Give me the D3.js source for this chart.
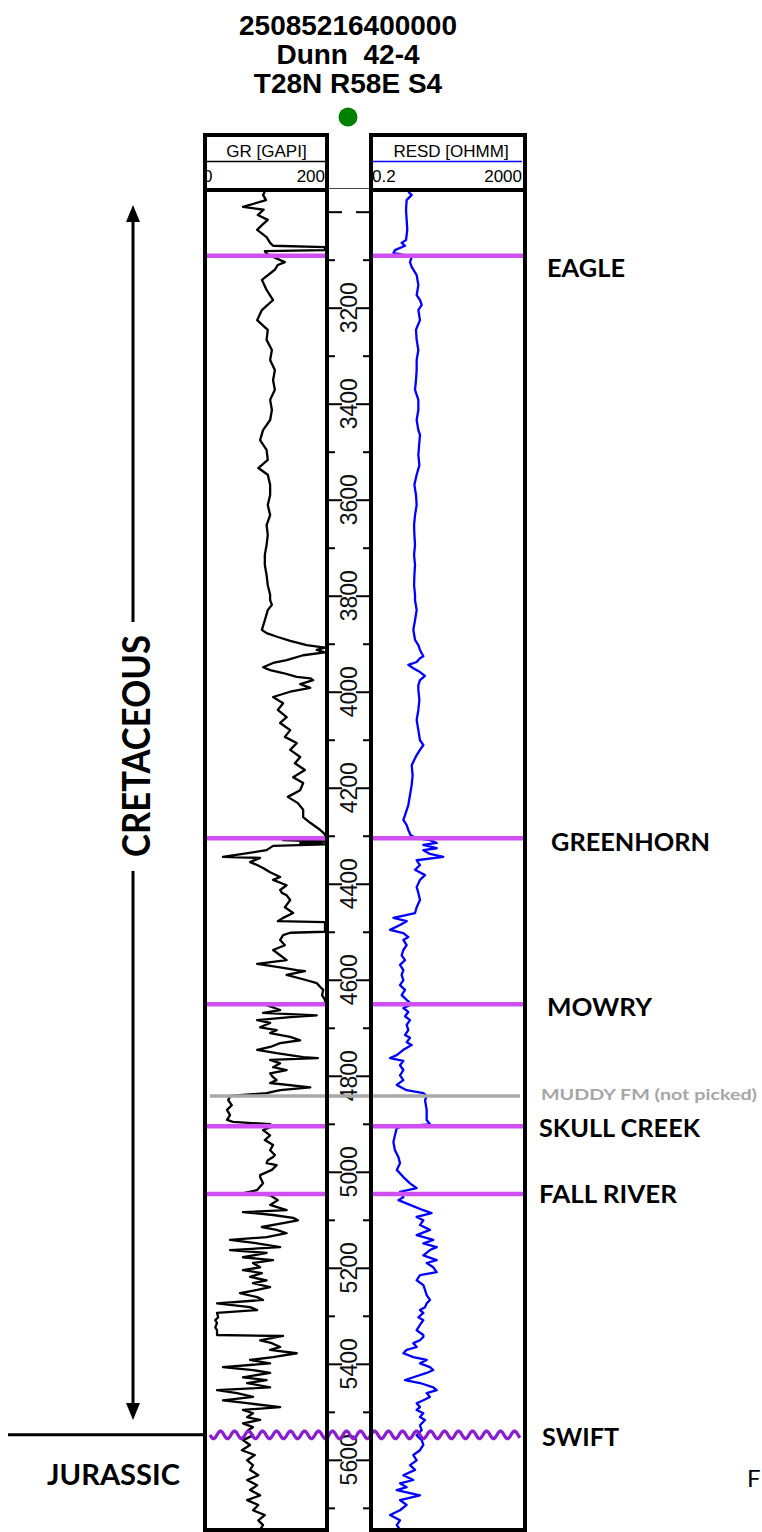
<!DOCTYPE html>
<html>
<head>
<meta charset="utf-8">
<script src="https://cdn.jsdelivr.net/npm/d3@7"></script>
<style>
  html, body { margin: 0; padding: 0; background: #fff; }
  svg { display: block; }
</style>
</head>
<body>
<svg id="chart" width="762" height="1532"></svg>
<script>
// ---------------- well header ----------------
const wellTitle = ["25085216400000", "Dunn  42-4", "T28N R58E S4"];

// ---------------- curve scales ----------------
const grDomain = [0, 200];          // GR [GAPI], linear
const resdDomain = [0.2, 2000];     // RESD [OHMM], logarithmic
const depthRange = [2959, 5742];    // feet shown in the tracks
const depthTicks = d3.range(3000, 5701, 100);
const depthMajor = d3.range(3000, 5701, 200);
const depthLabels = d3.range(3200, 5601, 200);

// ---------------- gamma ray log [depth ft, API] ----------------
const grLog = [
  [2959,98],[2965,95],[2976,100],[2990,61],[2996,96],[3007,86],[3017,103],[3028,93],[3038,85],
  [3053,101],[3065,107],[3071,112],[3074,200],[3080,200],[3082,98],[3086,100],[3092,107],
  [3096,115],[3105,132],[3111,120],[3121,115],[3142,93],[3163,101],[3184,112],[3205,93],
  [3226,85],[3246,103],[3267,101],[3288,110],[3309,107],[3330,115],[3351,112],[3371,115],
  [3392,107],[3413,110],[3434,107],[3455,95],[3476,90],[3496,101],[3517,103],[3534,87],
  [3548,103],[3569,107],[3590,107],[3611,103],[3632,107],[3653,101],[3673,103],[3694,101],
  [3715,98],[3736,98],[3757,101],[3778,103],[3798,107],[3809,107],[3819,110],[3830,103],
  [3851,98],[3871,93],[3878,101],[3886,120],[3894,141],[3903,169],[3908,200],[3913,186],
  [3918,200],[3924,163],[3934,135],[3940,112],[3949,95],[3955,107],[3961,129],[3969,152],
  [3972,175],[3976,180],[3984,158],[3992,175],[4000,141],[4011,112],[4024,129],[4038,120],
  [4053,135],[4065,124],[4080,141],[4094,132],[4107,152],[4121,141],[4136,158],[4149,149],
  [4163,166],[4178,146],[4190,163],[4205,158],[4219,137],[4232,154],[4246,163],[4261,163],
  [4273,175],[4288,192],[4297,200],[4305,200],[4309,129],[4312,200],[4315,158],[4318,200],
  [4321,112],[4330,101],[4344,27],[4346,90],[4355,73],[4361,85],[4367,95],[4376,107],
  [4386,124],[4392,112],[4403,135],[4413,124],[4419,127],[4424,135],[4434,141],[4449,132],
  [4461,146],[4471,129],[4478,120],[4480,200],[4500,200],[4502,141],[4507,129],[4517,124],
  [4528,132],[4538,112],[4549,124],[4559,135],[4567,85],[4574,124],[4580,152],[4582,166],
  [4590,135],[4601,169],[4607,186],[4615,192],[4621,197],[4632,195],[4642,200],[4651,200],
  [4653,101],[4663,124],[4669,95],[4674,186],[4678,141],[4684,85],[4690,107],[4699,90],
  [4705,118],[4711,107],[4719,141],[4726,158],[4732,124],[4740,107],[4746,85],[4753,118],
  [4761,163],[4763,188],[4767,107],[4774,124],[4782,112],[4788,135],[4795,107],[4803,112],
  [4809,118],[4815,107],[4824,175],[4830,124],[4836,101],[4842,39],[4851,36],[4861,42],
  [4871,34],[4882,39],[4892,34],[4896,44],[4901,107],[4905,112],[4913,95],[4924,107],
  [4934,98],[4944,112],[4955,107],[4965,115],[4969,112],[4976,103],[4982,101],[4986,118],
  [4996,110],[5007,90],[5011,90],[5024,95],[5038,85],[5044,64],[5049,107],[5059,120],
  [5069,107],[5080,135],[5084,61],[5090,112],[5096,146],[5101,154],[5107,129],[5115,93],
  [5121,118],[5128,135],[5136,101],[5142,39],[5149,85],[5157,124],[5163,39],[5169,101],
  [5178,61],[5184,112],[5190,78],[5199,90],[5205,61],[5211,93],[5219,73],[5226,101],
  [5232,78],[5240,107],[5246,85],[5253,56],[5261,85],[5267,95],[5274,17],[5282,73],
  [5288,85],[5294,17],[5303,19],[5309,14],[5315,17],[5324,14],[5330,17],[5340,17],
  [5342,129],[5344,120],[5351,90],[5357,110],[5365,124],[5371,107],[5378,152],[5386,112],
  [5392,73],[5399,107],[5407,27],[5413,78],[5419,107],[5428,61],[5434,101],[5440,68],
  [5449,107],[5455,17],[5461,51],[5469,78],[5476,27],[5482,68],[5490,124],[5496,61],
  [5503,78],[5511,68],[5517,90],[5524,61],[5532,78],[5538,70],[5549,78],[5559,61],
  [5569,73],[5580,59],[5590,81],[5601,68],[5611,78],[5621,73],[5632,87],[5642,68],
  [5653,85],[5663,73],[5674,90],[5684,68],[5694,87],[5705,78],[5715,98],[5726,87],
  [5736,95],[5745,90]
];

// ---------------- deep resistivity log [depth ft, ohm-m] ----------------
const resdLog = [
  [2959,1.75],[2965,2.15],[2976,1.58],[2996,1.52],[3017,1.58],[3038,1.64],[3059,1.52],
  [3065,1.16],[3071,1.43],[3080,0.77],[3086,0.70],[3090,1.29],[3094,2.15],[3105,1.94],
  [3115,2.15],[3132,2.92],[3153,3.24],[3174,2.92],[3184,3.58],[3194,3.98],[3205,3.24],
  [3226,3.58],[3246,2.8],[3267,2.92],[3288,3.24],[3309,2.92],[3330,2.92],[3351,2.8],
  [3371,2.64],[3392,3.24],[3413,3.24],[3434,2.92],[3455,3.24],[3465,3.58],[3486,3.4],
  [3507,3.24],[3528,3.45],[3548,2.92],[3569,2.54],[3590,2.8],[3611,2.92],[3632,2.64],
  [3653,2.49],[3673,2.54],[3694,2.64],[3715,2.49],[3736,2.64],[3757,2.54],[3778,2.49],
  [3798,2.64],[3809,2.64],[3830,2.92],[3851,2.64],[3871,2.38],[3892,2.64],[3903,3.24],
  [3913,3.58],[3926,4.4],[3930,3.58],[3938,2.92],[3944,1.75],[3951,2.38],[3959,3.58],
  [3967,4.88],[3976,3.58],[3986,3.24],[3996,3.24],[4017,3.45],[4038,3.24],[4059,2.92],
  [4080,3.24],[4101,3.58],[4111,4.4],[4121,3.58],[4132,2.92],[4153,2.15],[4174,2.28],
  [4194,2.15],[4215,1.94],[4236,1.75],[4257,1.43],[4267,1.29],[4278,1.58],[4288,1.75],
  [4299,2.02],[4305,2.92],[4309,6.6],[4315,10],[4319,4.4],[4326,10],[4330,4.4],[4338,6.6],
  [4344,15],[4351,2.92],[4361,3.58],[4371,2.64],[4382,4.88],[4392,3.58],[4407,2.92],
  [4419,3.24],[4434,3.58],[4449,2.92],[4461,2.64],[4471,0.70],[4478,1.58],[4486,1.05],
  [4496,0.57],[4503,1.29],[4511,1.75],[4517,1.29],[4528,1.58],[4538,1.29],[4549,1.16],
  [4559,1.43],[4569,1.05],[4580,1.29],[4590,1.16],[4601,1.29],[4611,1.05],[4621,1.43],
  [4632,1.16],[4642,1.58],[4651,2.15],[4659,1.29],[4667,1.75],[4676,1.43],[4684,1.94],
  [4694,1.58],[4705,1.75],[4715,1.43],[4721,1.94],[4730,1.58],[4736,2.15],[4746,1.29],
  [4757,0.86],[4763,0.57],[4769,1.29],[4778,1.05],[4788,1.29],[4799,1.05],[4809,1.29],
  [4819,0.86],[4830,1.58],[4836,4.4],[4842,5.4],[4851,4.88],[4871,5.4],[4892,5.4],
  [4901,6.6],[4905,1.29],[4909,0.86],[4924,0.77],[4938,0.70],[4955,0.77],[4969,0.95],
  [4982,1.05],[4996,0.86],[5011,1.29],[5024,1.94],[5034,2.92],[5042,1.05],[5053,1.29],
  [5059,0.95],[5069,1.94],[5080,4.4],[5086,7.3],[5094,2.92],[5101,4.4],[5111,3.58],
  [5121,6.6],[5132,2.92],[5142,8.1],[5149,4.4],[5157,10],[5163,6.6],[5174,4.4],[5184,10],
  [5190,5.4],[5199,8.1],[5209,10],[5215,3.58],[5226,2.92],[5236,4.4],[5246,4.88],
  [5257,5.4],[5267,6.6],[5274,5.4],[5282,4.88],[5288,3.58],[5294,4.4],[5303,3.24],
  [5309,4.4],[5319,3.58],[5330,2.92],[5340,4.4],[5344,4.4],[5351,3.58],[5357,2.38],
  [5365,2.92],[5371,1.58],[5378,1.29],[5386,2.38],[5392,5.4],[5399,3.58],[5407,6.6],
  [5413,8.1],[5419,5.4],[5428,2.38],[5434,1.43],[5440,3.58],[5449,8.1],[5455,10],
  [5461,5.4],[5469,6.6],[5476,4.4],[5482,2.92],[5490,3.58],[5496,2.92],[5503,4.4],
  [5511,3.58],[5517,4.88],[5528,3.58],[5538,3.98],[5549,2.92],[5559,3.98],[5569,4.4],
  [5580,3.58],[5590,2.38],[5601,2.92],[5611,1.94],[5621,2.64],[5632,1.29],[5642,2.38],
  [5649,1.05],[5657,1.58],[5663,0.86],[5674,3.58],[5684,1.05],[5694,1.58],[5705,1.05],
  [5715,0.57],[5726,1.05],[5736,0.86],[5745,1.05]
];

// ---------------- formation tops (ft) ----------------
const formationNames = ["EAGLE", "GREENHORN", "MOWRY", "MUDDY FM (not picked)", "SKULL CREEK", "FALL RIVER", "SWIFT"];
const formationDepths = [3092, 4305, 4651, 4842, 4905, 5046, 5548];
const formationKinds  = ["pick", "pick", "pick", "unpicked", "pick", "pick", "unconformity"];
const systemNames = ["CRETACEOUS", "JURASSIC"];

// ---------------- layout ----------------
const svg = d3.select("#chart");
const headTop = 135, trackTop = 190, trackBottom = 1530;
const grBox = { x0: 205, x1: 327 };
const rsBox = { x0: 371, x1: 525 };
const plotTop = 192, plotBottom = 1528;

const y = d3.scaleLinear().domain(depthRange).range([plotTop, plotBottom]);
const xGR = d3.scaleLinear().domain(grDomain).range([207, 325]);
const xRS = d3.scaleLog().domain(resdDomain).range([373, 523]);

const MAGENTA = "#cf4ff2", PURPLE = "#8a1ecf", GREY = "#a8a8a8";
const titleFont = "'Liberation Sans', Arial, sans-serif";
const labelFont = "Lato, 'Open Sans', sans-serif";

// title block
svg.append("g").selectAll("text").data(wellTitle).join("text")
  .attr("x", 348).attr("y", (d, i) => 35 + i * 29)
  .attr("text-anchor", "middle")
  .style("white-space", "pre")
  .attr("font-family", titleFont).attr("font-weight", "bold").attr("font-size", 28)
  .text(d => d);

svg.append("circle").attr("cx", 348).attr("cy", 117).attr("r", 9.5).attr("fill", "#008000");

// clip paths for the two curve tracks
const defs = svg.append("defs");
defs.append("clipPath").attr("id", "clipGR").append("rect")
  .attr("x", 207).attr("y", plotTop).attr("width", 118).attr("height", plotBottom - plotTop);
defs.append("clipPath").attr("id", "clipRS").append("rect")
  .attr("x", 373).attr("y", plotTop).attr("width", 150).attr("height", plotBottom - plotTop);

// track headers
const hdr = svg.append("g").attr("font-family", titleFont).attr("font-size", 17);
hdr.append("text").attr("x", 266.5).attr("y", 156.5).attr("text-anchor", "middle").text("GR [GAPI]");
hdr.append("line").attr("x1", 207).attr("x2", 325).attr("y1", 161.5).attr("y2", 161.5)
  .attr("stroke", "#000").attr("stroke-width", 1.5);
hdr.append("text").attr("x", 203).attr("y", 181.5).text(grDomain[0]);
hdr.append("text").attr("x", 325).attr("y", 181.5).attr("text-anchor", "end").text(grDomain[1]);

hdr.append("text").attr("x", 451).attr("y", 156.5).attr("text-anchor", "middle").text("RESD [OHMM]");
hdr.append("line").attr("x1", 373).attr("x2", 522).attr("y1", 161.5).attr("y2", 161.5)
  .attr("stroke", "#0000ff").attr("stroke-width", 1.5);
hdr.append("text").attr("x", 372).attr("y", 181.5).text(resdDomain[0]);
hdr.append("text").attr("x", 522).attr("y", 181.5).attr("text-anchor", "end").text(resdDomain[1]);

// depth track: ticks on both sides through d3 axes
const depthG = svg.append("g");
depthG.append("line").attr("x1", 329).attr("x2", 369).attr("y1", 188.5).attr("y2", 188.5)
  .attr("stroke", "#444").attr("stroke-width", 1);
function tickAxis(axis, x, values, size) {
  const g = depthG.append("g").attr("transform", `translate(${x},0)`)
    .call(axis(y).tickValues(values).tickSize(size).tickFormat(""));
  g.select(".domain").remove();
  g.selectAll(".tick line").attr("stroke", "#000").attr("stroke-width", 2);
}
const minorTicks = depthTicks.filter(d => d % 200 !== 0);
tickAxis(d3.axisRight, 329, minorTicks, 6);
tickAxis(d3.axisLeft, 369, minorTicks, 6);
tickAxis(d3.axisRight, 329, depthMajor, 13);
tickAxis(d3.axisLeft, 369, depthMajor, 13);
depthG.selectAll("text.depth").data(depthLabels).join("text")
  .attr("class", "depth")
  .attr("transform", d => `translate(357,${y(d)}) rotate(-90)`)
  .attr("text-anchor", "middle")
  .attr("font-family", titleFont).attr("font-size", 23).attr("fill", "#111")
  .text(d => d);

// curves
const grLine = d3.line().x(d => xGR(d[1])).y(d => y(d[0]));
const rsLine = d3.line().x(d => xRS(d[1])).y(d => y(d[0]));
svg.append("path").attr("clip-path", "url(#clipGR)").datum(grLog).attr("d", grLine)
  .attr("fill", "none").attr("stroke", "#000").attr("stroke-width", 2.3).attr("stroke-linejoin", "round");
svg.append("path").attr("clip-path", "url(#clipRS)").datum(resdLog).attr("d", rsLine)
  .attr("fill", "none").attr("stroke", "#0000ff").attr("stroke-width", 2.3).attr("stroke-linejoin", "round");

// formation tops
const tops = formationNames.map((name, i) => ({ name, depth: formationDepths[i], kind: formationKinds[i] }));
const topsG = svg.append("g");
tops.filter(t => t.kind === "pick").forEach(t => {
  [[207, 325], [373, 523]].forEach(([a, b]) => {
    topsG.append("line").attr("x1", a).attr("x2", b).attr("y1", y(t.depth)).attr("y2", y(t.depth))
      .attr("stroke", MAGENTA).attr("stroke-width", 4.5);
  });
});
tops.filter(t => t.kind === "unpicked").forEach(t => {
  topsG.append("line").attr("x1", 210).attr("x2", 520).attr("y1", y(t.depth)).attr("y2", y(t.depth))
    .attr("stroke", GREY).attr("stroke-width", 3.5);
});
// unconformity drawn as a wavy line
tops.filter(t => t.kind === "unconformity").forEach(t => {
  const yy = y(t.depth);
  const xs = d3.range(210, 520.5, 1);
  const wave = d3.line().x(d => d).y(d => yy + 3.8 * Math.sin((d - 210) / 14 * 2 * Math.PI));
  topsG.append("path").attr("d", wave(xs)).attr("fill", "none")
    .attr("stroke", PURPLE).attr("stroke-width", 3.2);
});

// horizontal boundary to the left of the tracks at the unconformity
const swiftY = y(formationDepths[6]);
svg.append("line").attr("x1", 8).attr("x2", 207).attr("y1", swiftY).attr("y2", swiftY)
  .attr("stroke", "#000").attr("stroke-width", 3);

// track frames
const frame = svg.append("g").attr("fill", "none").attr("stroke", "#000").attr("stroke-width", 4);
[grBox, rsBox].forEach(b => {
  frame.append("rect").attr("x", b.x0).attr("y", headTop).attr("width", b.x1 - b.x0).attr("height", trackBottom - headTop);
  frame.append("line").attr("x1", b.x0).attr("x2", b.x1).attr("y1", trackTop).attr("y2", trackTop);
});

// formation labels
const labelPlace = {
  "EAGLE": [547, 12], "GREENHORN": [551, 4], "MOWRY": [547, 3],
  "MUDDY FM (not picked)": [541, -1], "SKULL CREEK": [539, 2], "FALL RIVER": [539, 0], "SWIFT": [542, 2]
};
const labelWidth = {
  "EAGLE": 78, "GREENHORN": 159, "MOWRY": 105, "MUDDY FM (not picked)": 216,
  "SKULL CREEK": 161, "FALL RIVER": 138, "SWIFT": 77
};
svg.append("g").selectAll("text").data(tops).join("text")
  .attr("x", d => labelPlace[d.name][0])
  .attr("y", d => y(d.depth) + labelPlace[d.name][1])
  .attr("dy", "0.35em")
  .attr("font-family", labelFont).attr("font-weight", 700)
  .attr("font-size", d => d.kind === "unpicked" ? 15 : 25)
  .attr("fill", d => d.kind === "unpicked" ? "#a6a6a6" : "#000")
  .attr("textLength", d => labelWidth[d.name]).attr("lengthAdjust", "spacingAndGlyphs")
  .text(d => d.name);

// system labels with the Cretaceous range arrow
const arrowX = 133;
const sys = svg.append("g");
sys.append("line").attr("x1", arrowX).attr("x2", arrowX).attr("y1", 218).attr("y2", 622)
  .attr("stroke", "#000").attr("stroke-width", 3);
sys.append("line").attr("x1", arrowX).attr("x2", arrowX).attr("y1", 871).attr("y2", 1406)
  .attr("stroke", "#000").attr("stroke-width", 3);
sys.append("path").attr("d", `M${arrowX},205 L${arrowX - 7},222 L${arrowX + 7},222 Z`).attr("fill", "#000");
sys.append("path").attr("d", `M${arrowX},1420 L${arrowX - 7},1403 L${arrowX + 7},1403 Z`).attr("fill", "#000");
sys.append("text")
  .attr("transform", `translate(150,746) rotate(-90)`)
  .attr("text-anchor", "middle")
  .attr("font-family", labelFont).attr("font-weight", 700).attr("font-size", 38)
  .attr("textLength", 222).attr("lengthAdjust", "spacingAndGlyphs")
  .text(systemNames[0]);
sys.append("text").attr("x", 47).attr("y", 1485)
  .attr("font-family", labelFont).attr("font-weight", 700).attr("font-size", 29)
  .attr("textLength", 133).attr("lengthAdjust", "spacingAndGlyphs")
  .text(systemNames[1]);

svg.append("text").attr("x", 747).attr("y", 1487)
  .attr("font-family", labelFont).attr("font-size", 24).text("F");
</script>
</body>
</html>
